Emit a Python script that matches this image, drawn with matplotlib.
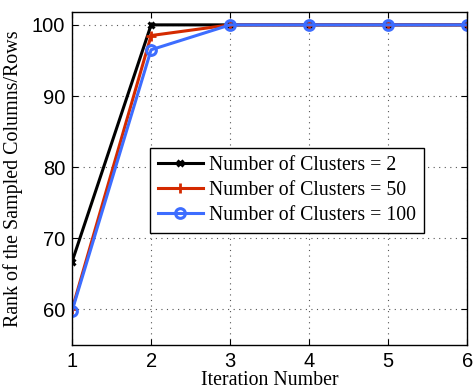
import numpy as np
import matplotlib.pyplot as plt

iterations = [1, 2, 3, 4, 5, 6]
clusters_2 = [66.7, 100, 100, 100, 100, 100]
clusters_50 = [60, 98.5, 100, 100, 100, 100]
clusters_100 = [59.8, 96.5, 100, 100, 100, 100]

fig = plt.figure(figsize=(4.74, 3.89), dpi=100)
ax = fig.add_axes([0.152, 0.113, 0.834, 0.856])

ax.plot(iterations, clusters_2, color='black', linewidth=2.2, marker='x', markersize=5,
        markeredgewidth=2.2, label='Number of Clusters = 2')
ax.plot(iterations, clusters_50, color='#d42a00', linewidth=2.2, marker='+', markersize=7,
        markeredgewidth=2, label='Number of Clusters = 50')
ax.plot(iterations, clusters_100, color='#3d6dff', linewidth=2.2, marker='o', markersize=7,
        markerfacecolor='none', markeredgewidth=2.2, label='Number of Clusters = 100')

ax.set_xlim(1, 6)
ax.set_ylim(55, 101.8)
ax.set_xticks([1, 2, 3, 4, 5, 6])
ax.set_yticks([60, 70, 80, 90, 100])
ax.tick_params(direction='in', top=True, right=True, labelsize=14.5, length=4, pad=5)
for lbl in ax.get_xticklabels() + ax.get_yticklabels():
    lbl.set_family('Liberation Sans')
ax.grid(True, linestyle=(0, (1, 4)), color='#555555', linewidth=0.8)
for s in ax.spines.values():
    s.set_linewidth(1.0)

ax.set_xlabel('Iteration Number', family='Liberation Serif', fontsize=14.3, labelpad=0)
ax.set_ylabel('Rank of the Sampled Columns/Rows', family='Liberation Serif', fontsize=14.4, labelpad=6)

leg = ax.legend(loc='upper left', bbox_to_anchor=(0.197, 0.592), borderaxespad=0,
                prop={'family': 'Liberation Serif', 'size': 14.2},
                fancybox=False, edgecolor='black', framealpha=1, handlelength=2.3,
                borderpad=0.4, labelspacing=0.3, handletextpad=0.3)
leg.get_frame().set_linewidth(1.0)

plt.savefig('out.png', dpi=100)
